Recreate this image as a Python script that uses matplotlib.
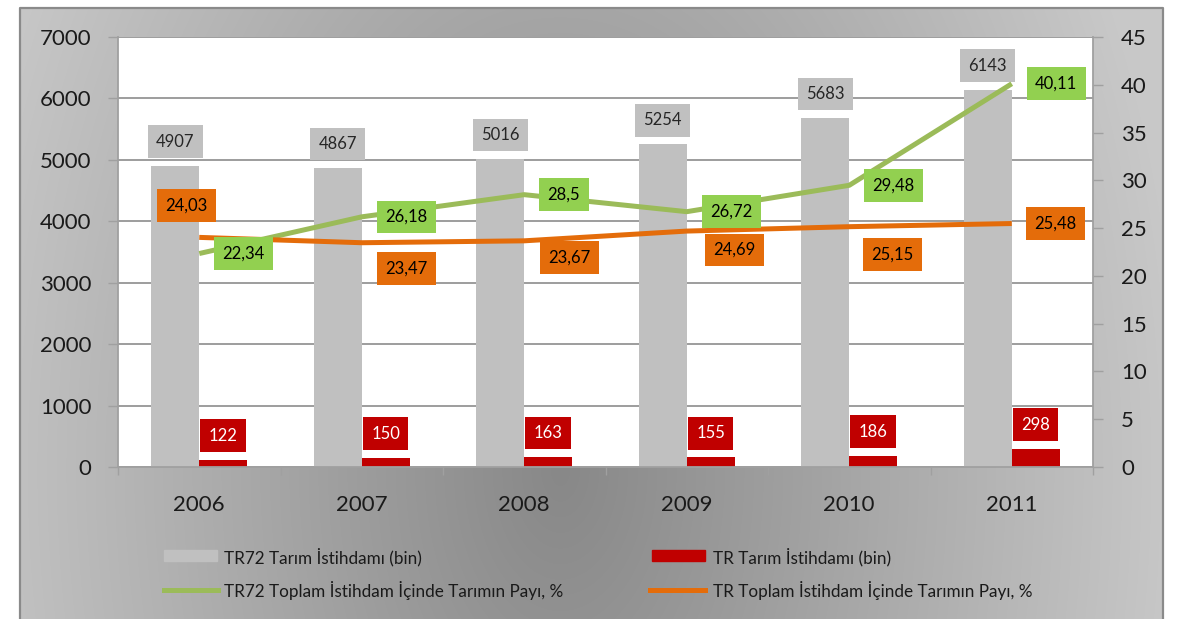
import numpy as np
import matplotlib
matplotlib.use('Agg')
import matplotlib.pyplot as plt
from matplotlib.patches import Rectangle
from matplotlib.lines import Line2D

# ---------------- data ----------------
years = ['2006', '2007', '2008', '2009', '2010', '2011']
tr72_emp = [4907, 4867, 5016, 5254, 5683, 6143]          # TR72 Tarım İstihdamı (bin)
tr_emp = [122, 150, 163, 155, 186, 298]                   # TR Tarım İstihdamı (bin)
tr72_share = [22.34, 26.18, 28.5, 26.72, 29.48, 40.11]    # TR72 share %
tr_share = [24.03, 23.47, 23.67, 24.69, 25.15, 25.48]     # TR share %
left_ticks = list(range(0, 7001, 1000))
right_ticks = list(range(0, 46, 5))
legend_labels = ['TR72 Tarım İstihdamı (bin)', 'TR Tarım İstihdamı (bin)',
                 'TR72 Toplam İstihdam İçinde Tarımın Payı, %',
                 'TR Toplam İstihdam İçinde Tarımın Payı, %']

# label placement (pixel offsets of box left edge / vertical centre)
orange_offsets = [(-42, 32), (15, -26), (16, -17), (18, -19), (14, -28), (14, 0)]

GRAY = '#c0c0c0'
RED = '#c00000'
GREEN_LINE = '#9bbb59'
GREEN_BOX = '#92d050'
ORANGE = '#e46c0a'
TXT = '#1a1a1a'

plt.rcParams['font.family'] = ['Lato', 'DejaVu Sans']

W, H = 1186, 619
fig = plt.figure(figsize=(W / 100, H / 100), dpi=100)
fig.patch.set_facecolor('white')

# ---------------- background gradient frame ----------------
bg = fig.add_axes([0, 0, 1, 1], zorder=0)
bg.axis('off')
yy, xx = np.mgrid[0:H, 0:W]
d = np.sqrt(((xx - 560) / 620.0) ** 2 + ((yy - 470) / 1000.0) ** 2)
val = (136 + 64 * np.clip(d, 0, 1)) / 255.0
inside = (xx >= 20) & (xx <= 1163) & (yy >= 8)
val = np.where(inside, val, 1.0)
img = np.dstack([val, val, val])
bg.imshow(img, extent=(0, W, H, 0), aspect='auto', interpolation='bilinear')
bg.set_xlim(0, W)
bg.set_ylim(H, 0)
bg.plot([20, 20, 1163, 1163], [H, 8, 8, H], color='#8a8a8a', lw=1.6)

# ---------------- main axes ----------------
ax = fig.add_axes([118 / W, 1 - 467 / H, 975 / W, 430 / H], zorder=2)
ax.set_facecolor('white')
x = np.arange(len(years))
bw = 0.295
ax.bar(x - bw / 2, tr72_emp, width=bw, color=GRAY, zorder=2)
ax.bar(x + bw / 2, tr_emp, width=bw, color=RED, zorder=2)
ax.set_xlim(-0.5, len(years) - 0.5)
ax.set_ylim(0, 7000)
ax.set_yticks(left_ticks)
ax.yaxis.grid(True, color='#959595', lw=1.3)
ax.set_axisbelow(True)
ax.tick_params(axis='y', length=7.2, width=1, color='#a0a0a0', pad=12,
               labelsize=16, labelcolor=TXT)
ax.set_xticks(x, labels=years)
ax.tick_params(axis='x', which='major', length=0, pad=20, labelsize=16, labelcolor=TXT)
ax.set_xticks(np.arange(-0.5, len(years), 1), minor=True)
ax.tick_params(axis='x', which='minor', length=6, width=1, color='#a0a0a0')
for s in ['top', 'right']:
    ax.spines[s].set_visible(False)
for s in ['left', 'bottom']:
    ax.spines[s].set_color('#a0a0a0')
    ax.spines[s].set_linewidth(1.3)

FS = 12
pad_box = 0.5
pad_px = pad_box * FS * 100 / 72.0
for i, v in enumerate(tr72_emp):
    ax.annotate(str(v), xy=(i - bw / 2, v), xytext=(0, 24), textcoords='offset pixels',
                ha='center', va='center', fontsize=FS, color='#262626', zorder=5,
                bbox=dict(boxstyle=f'square,pad={pad_box}', fc=GRAY, ec='none'))
for i, v in enumerate(tr_emp):
    ax.annotate(str(v), xy=(i + bw / 2, v), xytext=(0, 24), textcoords='offset pixels',
                ha='center', va='center', fontsize=FS, color='white', zorder=5,
                bbox=dict(boxstyle=f'square,pad={pad_box}', fc=RED, ec='none'))

# ---------------- secondary axis ----------------
ax2 = ax.twinx()
ax2.set_zorder(3)
ax2.patch.set_visible(False)
ax2.set_ylim(0, 45)
ax2.set_yticks(right_ticks)
ax2.tick_params(axis='y', length=7.2, width=1, color='#a0a0a0', pad=13,
                labelsize=16, labelcolor=TXT)
for s in ['top', 'left', 'bottom']:
    ax2.spines[s].set_visible(False)
ax2.spines['right'].set_color('#a0a0a0')
ax2.spines['right'].set_linewidth(1.3)

ax2.plot(x, tr72_share, color=GREEN_LINE, lw=3.6, solid_capstyle='butt',
         solid_joinstyle='round', zorder=3)
ax2.plot(x, tr_share, color=ORANGE, lw=3.6, solid_capstyle='butt',
         solid_joinstyle='round', zorder=3)


def fmt(v):
    return f'{v:g}'.replace('.', ',')


for i, v in enumerate(tr72_share):
    ax2.annotate(fmt(v), xy=(i, v), xytext=(15 + pad_px, 0), textcoords='offset pixels',
                 ha='left', va='center', fontsize=FS, color='black', zorder=6,
                 bbox=dict(boxstyle=f'square,pad={pad_box}', fc=GREEN_BOX, ec='none'))
for i, v in enumerate(tr_share):
    dx, dy = orange_offsets[i]
    ax2.annotate(fmt(v), xy=(i, v), xytext=(dx + pad_px, dy), textcoords='offset pixels',
                 ha='left', va='center', fontsize=FS, color='black', zorder=6,
                 bbox=dict(boxstyle=f'square,pad={pad_box}', fc=ORANGE, ec='none'))

# ---------------- legend (drawn in pixel coords of background axes) ----------------
bg.add_patch(Rectangle((164, 550), 53, 11, color=GRAY))
bg.add_patch(Rectangle((652, 550), 53, 11, color=RED))
bg.add_line(Line2D([164, 218], [590, 590], color=GREEN_LINE, lw=3.6))
bg.add_line(Line2D([650, 705], [590, 590], color=ORANGE, lw=3.6))
lkw = dict(fontsize=12.3, color=TXT, va='center', ha='left')
bg.text(224, 557, legend_labels[0], **lkw)
bg.text(713, 557, legend_labels[1], **lkw)
bg.text(224, 591, legend_labels[2], **lkw)
bg.text(713, 591, legend_labels[3], **lkw)

fig.savefig('out.png', dpi=100)
